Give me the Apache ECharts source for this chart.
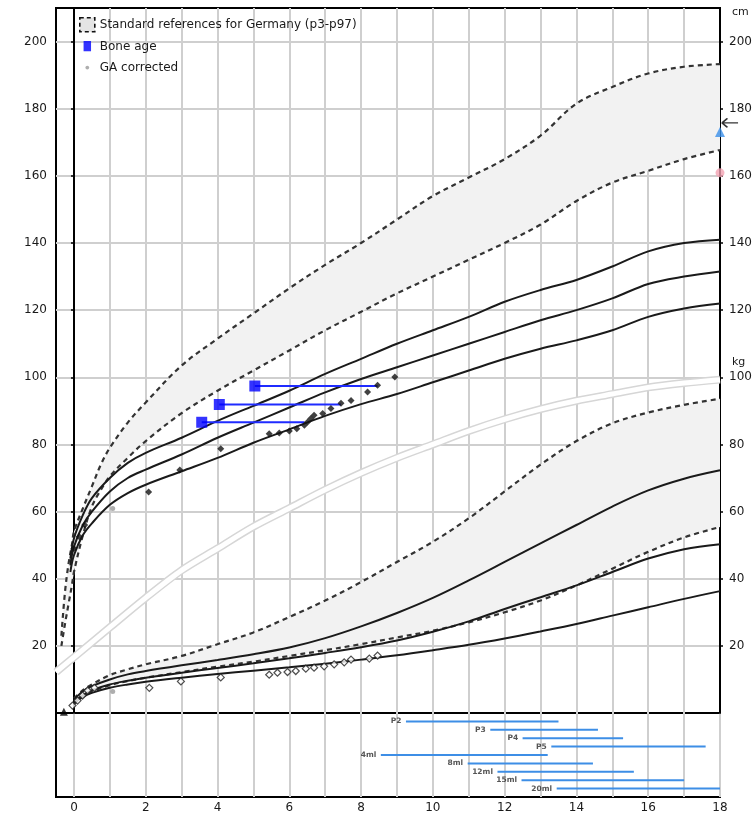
<!DOCTYPE html>
<html>
<head>
<meta charset="utf-8">
<title>Growth chart</title>
<script src="https://cdn.jsdelivr.net/npm/echarts@6/dist/echarts.min.js"></script>
<style>
  html, body { margin: 0; padding: 0; background: #fff; }
  #chart { width: 756px; height: 817px; }
</style>
</head>
<body>
<div id="chart"></div>
<script>
// reference percentiles, height (cm)
const heightAges = [-0.35, -0.25, -0.15, -0.05, 0, 0.25, 0.5, 0.75, 1, 1.5, 2, 3, 4, 5, 6, 7, 8, 9, 10, 11, 12, 13, 14, 15, 16, 17, 18]
const heightP97 = [23, 36, 44.5, 50.5, 54, 61, 67.5, 74, 79, 86.5, 92.5, 103.5, 111.5, 119, 126.5, 133.5, 140, 147, 154, 159.5, 165, 172, 181.5, 186.5, 190.5, 192.5, 193.3]
const heightP3 = [20, 26.5, 32.5, 38.5, 42, 53, 61.5, 66.5, 70.5, 76, 81, 89.3, 96, 102, 108, 114, 119.5, 125, 130, 135, 140, 145.5, 152.5, 158, 161.5, 165, 167.7]

// disease specific height curves
const solidHeightAges = [-0.1, 0, 0.25, 0.5, 1, 1.5, 2, 3, 4, 5, 6, 7, 8, 9, 10, 11, 12, 13, 14, 15, 16, 17, 18]
const heightS1 = [46, 52, 59, 64, 70, 74.5, 77.5, 82, 87, 91.5, 96, 101, 105.5, 110, 114, 118, 122.5, 126, 129, 133, 137.5, 140, 141]
const heightS2 = [44, 49.5, 56, 60, 66, 70, 72.5, 77, 82, 86.5, 91, 95.5, 99.5, 103, 106.5, 110, 113.5, 117, 120, 123.5, 127.8, 130, 131.5]
const heightS3 = [42, 47, 53, 56.5, 62, 65.5, 68, 72, 76, 80.5, 84.5, 88.5, 92, 95, 98.5, 102, 105.5, 108.5, 111, 114, 118, 120.5, 122]

// weight (kg)
const weightAges = [0, 0.25, 0.5, 1, 1.5, 2, 3, 4, 5, 6, 7, 8, 9, 10, 11, 12, 13, 14, 15, 16, 17, 18]
const weightP97 = [4.3, 6.8, 8.5, 11.3, 13, 14.5, 17, 20.5, 24, 28.6, 33.5, 39, 45, 51, 58, 66, 74, 81, 86.3, 89.5, 91.8, 93.6]
const weightP3 = [2.6, 4.8, 6.3, 8.3, 9.5, 10.5, 12.2, 13.8, 15.3, 17, 18.7, 20.5, 22.5, 24.5, 27, 30, 33.5, 38, 43, 48, 52.3, 55.4]
const weightS1 = [4, 6.5, 8, 10, 11.5, 12.5, 14.2, 15.8, 17.5, 19.5, 22.3, 25.8, 29.8, 34.3, 39.5, 45, 50.5, 56, 61.5, 66.3, 69.8, 72.3]
const weightS2 = [3.3, 5.3, 6.8, 8.5, 9.6, 10.5, 12, 13.4, 14.8, 16.3, 17.9, 19.6, 21.6, 24.2, 27.3, 31, 34.5, 38, 42, 46, 48.8, 50.3]
const weightS3 = [3, 4.8, 6, 7.5, 8.5, 9.3, 10.5, 11.6, 12.6, 13.6, 14.7, 15.9, 17.2, 18.7, 20.3, 22.2, 24.3, 26.5, 29, 31.5, 34, 36.3]

// the light double line
const bandAges = [-0.5, 0, 1, 2, 3, 4, 5, 6, 7, 8, 9, 10, 11, 12, 13, 14, 15, 16, 17, 18]
const bandValues = [12.2, 16.6, 25.5, 34.3, 42.5, 49, 55.5, 61, 66.5, 71.5, 76, 80, 84, 87.5, 90.5, 93, 95, 97, 98.3, 99.3]

// patient measurements
const measHeightAges = [0.0, 0.15, 0.3, 2.08, 2.95, 4.09, 5.44, 5.72, 6.0, 6.21, 6.42, 6.51, 6.6, 6.69, 6.93, 7.16, 7.44, 7.72, 8.18, 8.46, 8.94]
const measHeights = [49, 52.5, 56, 65.8, 72.4, 78.7, 83.2, 83.4, 84, 84.7, 85.7, 86.7, 87.7, 88.7, 89.2, 90.7, 92.3, 93.1, 95.6, 97.6, 100.1]
const measWeightAges = [-0.04, 0.1, 0.24, 0.38, 0.57, 2.1, 2.98, 4.09, 5.44, 5.67, 5.95, 6.18, 6.46, 6.69, 6.97, 7.25, 7.53, 7.72, 8.23, 8.46]
const measWeights = [2.2, 3.7, 5.2, 6.7, 7.5, 7.5, 9.4, 10.6, 11.4, 12, 12.2, 12.5, 13.2, 13.5, 13.9, 14.5, 15.1, 15.9, 16.2, 17.1]
const gaAges = [1.08, 1.08]
const gaValues = [60.9, 6.4]
const birthMark = [-0.28, 0.4]

// bone age vs chronological age
const boneAges = [3.56, 4.05, 5.04]
const boneChronAges = [6.42, 7.44, 8.46]
const boneHeights = [86.6, 91.9, 97.4]

// right-hand markers
const targetHeight = 175.8
const predictedHeight = 173.1
const motherHeight = 160.9

// pubertal stages (rows in the lower panel)
const pubLabels = ['P2', 'P3', 'P4', 'P5', '4ml', '8ml', '12ml', '15ml', '20ml']
const pubStart = [9.25, 11.6, 12.5, 13.3, 8.55, 10.97, 11.8, 12.47, 13.45]
const pubEnd = [13.5, 14.6, 15.3, 17.6, 13.2, 14.46, 15.6, 17.0, 18.0]

const yearTicks = Array.from({ length: 19 }, (_, i) => i)
const xLabelValues = [0, 2, 4, 6, 8, 10, 12, 14, 16, 18]
const yLabelValues = [20, 40, 60, 80, 100, 120, 140, 160, 180, 200]

const FONT = 'DejaVu Sans'
const GRID_LINE = { color: '#cfcfcf', width: 2 }
const REF_NAME = 'Standard references for Germany (p3-p97)'

const pairs = (xs, ys) => xs.map((x, i) => [x, ys[i]])

function dashedLine(xs, ys) {
  return {
    type: 'line', xAxisIndex: 0, yAxisIndex: 0, data: pairs(xs, ys),
    symbol: 'none', smooth: 0.35, silent: true, z: 4,
    lineStyle: { color: '#333', width: 2.2, type: [5, 4] }
  }
}

function solidLine(xs, ys) {
  return {
    type: 'line', xAxisIndex: 0, yAxisIndex: 0, data: pairs(xs, ys),
    symbol: 'none', smooth: 0.35, silent: true, z: 5,
    lineStyle: { color: '#1a1a1a', width: 2 }
  }
}

// grey p3-p97 area, drawn as one polygon between the two percentile lines
function bandSeries(xs, lower, upper) {
  return {
    name: REF_NAME, type: 'custom', xAxisIndex: 0, yAxisIndex: 0,
    data: [[xs[0], lower[0]]], silent: true, z: 1,
    itemStyle: { color: '#f2f2f2' },
    renderItem(params, api) {
      const top = xs.map((x, i) => api.coord([x, upper[i]]))
      const bottom = xs.map((x, i) => api.coord([x, lower[i]])).reverse()
      return {
        type: 'polygon',
        shape: { points: top.concat(bottom) },
        style: { fill: '#f2f2f2' }
      }
    }
  }
}

function yAxisFor(position) {
  return {
    type: 'value', gridIndex: 0, position, min: 0, max: 210, interval: 10,
    axisLine: { show: true, lineStyle: { color: '#000', width: 2 } },
    axisTick: { show: true, customValues: yLabelValues, length: 3, lineStyle: { color: '#000', width: 1.5 } },
    axisLabel: {
      customValues: yLabelValues, margin: 9,
      color: '#1a1a1a', fontFamily: FONT, fontSize: 12
    },
    splitLine: { show: position === 'left', lineStyle: GRID_LINE }
  }
}

const boneLines = boneAges.map((b, i) => ({
  type: 'line', data: [[b, boneHeights[i]], [boneChronAges[i], boneHeights[i]]],
  symbol: 'none', silent: true, z: 7,
  lineStyle: { color: '#1f2bff', width: 2 }
}))

const pubBars = pubLabels.map((lab, i) => ({
  type: 'line', xAxisIndex: 1, yAxisIndex: 2,
  data: [[pubStart[i], i + 1], [pubEnd[i], i + 1]],
  symbol: 'none', silent: true,
  lineStyle: { color: '#3d8ee6', width: 2 }
}))

const option = {
  animation: false,
  textStyle: { fontFamily: FONT },
  grid: [
    { left: 56, right: 36, top: 8, bottom: 104, show: true, borderColor: '#000', borderWidth: 2 },
    { left: 56, right: 36, top: 713, bottom: 20, show: true, borderColor: '#000', borderWidth: 2 }
  ],
  legend: {
    orient: 'vertical', left: 74, top: 12, itemGap: 7,
    itemWidth: 15, itemHeight: 14,
    textStyle: { fontFamily: FONT, fontSize: 12, color: '#1a1a1a' },
    selectedMode: false,
    data: [
      {
        name: REF_NAME, icon: 'rect',
        itemStyle: { color: '#e4e4e4', borderColor: '#111', borderWidth: 1.6, borderType: [4, 3] }
      },
      { name: 'Bone age', icon: 'path://M0,0M15,15M3.5,1.5L11.5,1.5L11.5,12.5L3.5,12.5Z', itemStyle: { color: '#0000ff' } },
      { name: 'GA corrected', icon: 'path://M0,0M15,15M5.5,7.5A2,2 0 1 1 9.5,7.5A2,2 0 1 1 5.5,7.5Z', itemStyle: { color: '#9a9a9a' } }
    ]
  },
  xAxis: [
    {
      type: 'value', gridIndex: 0, min: -0.5, max: 18,
      axisLine: { show: false }, axisLabel: { show: false },
      axisTick: { show: false, customValues: yearTicks },
      splitLine: { show: true, lineStyle: GRID_LINE }
    },
    {
      type: 'value', gridIndex: 1, min: -0.5, max: 18,
      axisLine: { show: false },
      axisTick: { show: false, customValues: yearTicks },
      axisLabel: { customValues: xLabelValues, margin: 5, color: '#1a1a1a', fontFamily: FONT, fontSize: 12 },
      splitLine: { show: true, lineStyle: GRID_LINE }
    }
  ],
  yAxis: [
    yAxisFor('left'),
    yAxisFor('right'),
    { type: 'value', gridIndex: 1, min: 0, max: 10, inverse: true, show: false, splitLine: { show: false } }
  ],
  graphic: [
    { type: 'text', left: 732, top: 7, style: { text: 'cm', fontFamily: FONT, fontSize: 11, fill: '#1a1a1a' } },
    { type: 'text', left: 732, top: 357, style: { text: 'kg', fontFamily: FONT, fontSize: 11, fill: '#1a1a1a' } }
  ],
  series: [
    bandSeries(heightAges, heightP3, heightP97),
    bandSeries(weightAges, weightP3, weightP97),
    {
      type: 'line', data: pairs(bandAges, bandValues), symbol: 'none', smooth: 0.3, silent: true, z: 2,
      lineStyle: { color: '#d6d6d6', width: 8 }
    },
    {
      type: 'line', data: pairs(bandAges, bandValues), symbol: 'none', smooth: 0.3, silent: true, z: 3,
      lineStyle: { color: '#ffffff', width: 5 }
    },
    dashedLine(heightAges, heightP97),
    dashedLine(heightAges, heightP3),
    dashedLine(weightAges, weightP97),
    dashedLine(weightAges, weightP3),
    solidLine(solidHeightAges, heightS1),
    solidLine(solidHeightAges, heightS2),
    solidLine(solidHeightAges, heightS3),
    solidLine(weightAges, weightS1),
    solidLine(weightAges, weightS2),
    solidLine(weightAges, weightS3),
    ...boneLines,
    {
      type: 'scatter', data: pairs(measHeightAges, measHeights), symbol: 'diamond', symbolSize: 7, z: 8,
      itemStyle: { color: '#111' }
    },
    {
      type: 'scatter', data: pairs(measWeightAges, measWeights), symbol: 'diamond', symbolSize: 7, z: 8,
      itemStyle: { color: '#fff', borderColor: '#222', borderWidth: 1.2 }
    },
    {
      name: 'GA corrected', type: 'scatter', data: pairs(gaAges, gaValues), symbolSize: 5, z: 8,
      itemStyle: { color: '#9a9a9a' }
    },
    {
      name: 'Bone age', type: 'scatter', data: pairs(boneAges, boneHeights), symbol: 'rect', symbolSize: 11, z: 9,
      itemStyle: { color: '#0000ff' }
    },
    {
      type: 'scatter', data: [birthMark], symbol: 'triangle', symbolSize: 8, z: 9,
      itemStyle: { color: '#000' }
    },
    {
      type: 'scatter', data: [[18, predictedHeight]], symbol: 'triangle', symbolSize: 10, z: 9, clip: false,
      itemStyle: { color: '#3a8ee8' }
    },
    {
      type: 'scatter', data: [[18, motherHeight]], symbol: 'circle', symbolSize: 9, z: 9, clip: false,
      itemStyle: { color: '#f2a3b3' }
    },
    {
      type: 'scatter', data: [[18.28, targetHeight]], clip: false, z: 9,
      symbol: 'path://M0,5L6,0M0,5L6,10M0,5L18,5', symbolSize: [16, 9],
      itemStyle: { color: 'rgba(0,0,0,0)', borderColor: '#000', borderWidth: 1.5 }
    },
    ...pubBars,
    {
      type: 'scatter', xAxisIndex: 1, yAxisIndex: 2, silent: true,
      data: pubLabels.map((lab, i) => ({ name: lab, value: [pubStart[i], i + 1] })),
      symbolSize: 1, itemStyle: { color: 'rgba(0,0,0,0)' },
      label: {
        show: true, position: 'left', distance: 4, formatter: '{b}',
        fontFamily: FONT, fontSize: 7.5, fontWeight: 'bold', color: '#2a2a2a'
      }
    }
  ]
}

const chart = echarts.init(document.getElementById('chart'))
chart.setOption(option)
</script>
</body>
</html>
